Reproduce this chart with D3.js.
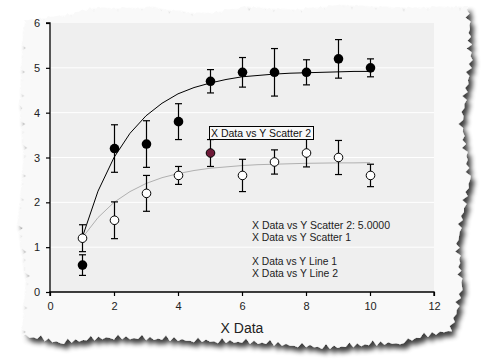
<!DOCTYPE html>
<html><head><meta charset="utf-8">
<script src="https://cdn.jsdelivr.net/npm/d3@7"></script>
<style>body{margin:0;background:#fff}svg{display:block}text{font-family:"Liberation Sans",Arial,sans-serif}</style>
</head><body><svg id="c" width="491" height="364"></svg>
<script>
const xData = [1,2,3,4,5,6,7,8,9,10];
const scatter1 = [0.6,3.2,3.3,3.8,4.7,4.9,4.9,4.9,5.2,5.0];
const scatter1Err = [0.23,0.53,0.52,0.4,0.26,0.33,0.53,0.28,0.43,0.2];
const scatter2 = [1.2,1.6,2.2,2.6,3.1,2.6,2.9,3.1,3.0,2.6];
const scatter2Err = [0.3,0.41,0.4,0.2,0.3,0.36,0.27,0.31,0.38,0.25];
const lineX = [1,1.5,2,2.5,3,3.5,4,4.5,5,5.5,6,6.5,7,7.5,8,8.5,9,9.5,10];
const line1 = [1.2,2.25,3.0,3.54,3.93,4.21,4.42,4.56,4.66,4.74,4.80,4.83,4.86,4.88,4.89,4.90,4.91,4.92,4.92];
const line2 = [1.2,1.66,2.0,2.24,2.42,2.55,2.64,2.71,2.76,2.79,2.82,2.84,2.85,2.86,2.87,2.875,2.88,2.88,2.885];
const xTicks = [0,2,4,6,8,10,12];
const yTicks = [0,1,2,3,4,5,6];
const legendLines = ["X Data vs Y Scatter 2: 5.0000","X Data vs Y Scatter 1","","X Data vs Y Line 1","X Data vs Y Line 2"];
const highlightIndex = 4;
const tooltipText = "X Data vs Y Scatter 2";

const svg = d3.select("#c");
const defs = svg.append("defs");
const f = defs.append("filter").attr("id","sh").attr("x","-10%").attr("y","-10%").attr("width","130%").attr("height","130%");
f.append("feGaussianBlur").attr("in","SourceAlpha").attr("stdDeviation",2.5);
f.append("feOffset").attr("dx",4).attr("dy",5).attr("result","b");
f.append("feComponentTransfer").append("feFuncA").attr("type","linear").attr("slope",0.75);
const fm = f.append("feMerge"); fm.append("feMergeNode"); fm.append("feMergeNode").attr("in","SourceGraphic");

// torn paper outline (decoration)
function jag(i){ return ((i*7919)%13)/13; }
const pts = [];
let k=0;
const edgeTop = [[24,20],[60,16],[90,8],[150,8],[200,14],[245,7],[290,10],[340,5],[400,8],[468,6]];
const edgeRight = [[468,6],[472,60],[462,120],[470,180],[458,240],[462,290],[452,330]];
const edgeBottom = [[452,330],[400,343],[330,348],[250,343],[170,340],[110,338],[60,343],[22,336]];
const edgeLeft = [[22,336],[26,280],[18,220],[24,160],[20,100],[24,20]];
function addEdge(seg, nx, ny){
  for(let s=0;s<seg.length-1;s++){
    const [x0,y0]=seg[s],[x1,y1]=seg[s+1];
    const len=Math.hypot(x1-x0,y1-y0), n=Math.max(2,Math.round(len/4));
    for(let j=0;j<n;j++){const t=j/n; const a=jag(k++)*5*(j%2?1:-0.3);
      pts.push([x0+(x1-x0)*t+nx*a, y0+(y1-y0)*t+ny*a]);}
  }
}
addEdge(edgeTop,0,1); addEdge(edgeRight,-1,0); addEdge(edgeBottom,0,-1); addEdge(edgeLeft,1,0);
svg.append("path").attr("d","M"+pts.map(p=>p.join(",")).join("L")+"Z")
  .attr("fill","#f9f9f9").attr("filter","url(#sh)");

const x = d3.scaleLinear().domain([0,12]).range([50,434]);
const y = d3.scaleLinear().domain([0,6]).range([292,23]);

svg.append("rect").attr("x",x(0)).attr("y",y(6)).attr("width",x(12)-x(0)).attr("height",y(0)-y(6)).attr("fill","#efefef");
svg.append("g").selectAll("line").data(yTicks.slice(1,6)).join("line")
  .attr("x1",x(0)).attr("x2",x(12)).attr("y1",d=>y(d)).attr("y2",d=>y(d)).attr("stroke","#fff");

const lg = d3.line().x((d,i)=>x(lineX[i])).y(d=>y(d));
svg.append("path").attr("d",lg(line2)).attr("fill","none").attr("stroke","#b0b0b0").attr("stroke-width",1);
svg.append("path").attr("d",lg(line1)).attr("fill","none").attr("stroke","#000").attr("stroke-width",1);

function errBars(vals, errs){
  const g = svg.append("g").attr("stroke","#000").attr("stroke-width",1.2);
  vals.forEach((v,i)=>{
    const cx=Math.round(x(xData[i]))+0.5, t=y(v+errs[i]), b=y(v-errs[i]);
    g.append("line").attr("x1",cx).attr("x2",cx).attr("y1",t).attr("y2",b);
    g.append("line").attr("x1",cx-3.5).attr("x2",cx+3.5).attr("y1",t).attr("y2",t);
    g.append("line").attr("x1",cx-3.5).attr("x2",cx+3.5).attr("y1",b).attr("y2",b);
  });
}
errBars(scatter2, scatter2Err);
errBars(scatter1, scatter1Err);

svg.append("g").selectAll("circle").data(scatter2).join("circle")
  .attr("cx",(d,i)=>Math.round(x(xData[i]))+0.5).attr("cy",d=>y(d)).attr("r",4.3)
  .attr("fill",(d,i)=>i===highlightIndex?"#6e1a38":"#fff").attr("stroke","#000").attr("stroke-width",1);
svg.append("g").selectAll("circle").data(scatter1).join("circle")
  .attr("cx",(d,i)=>Math.round(x(xData[i]))+0.5).attr("cy",d=>y(d)).attr("r",4.8).attr("fill","#000");

// axes
const xa = svg.append("g").attr("transform",`translate(0,${y(0)})`)
  .call(d3.axisBottom(x).tickValues(xTicks).tickSize(4).tickPadding(6).tickFormat(d3.format("d")));
const ya = svg.append("g").attr("transform",`translate(${x(0)},0)`)
  .call(d3.axisLeft(y).tickValues(yTicks).tickSize(4).tickPadding(6).tickFormat(d3.format("d")));
[xa,ya].forEach(a=>{a.select(".domain").attr("stroke","#000").attr("stroke-width",1.3);
  a.selectAll(".tick line").attr("stroke","#000").attr("stroke-width",1.2);
  a.selectAll("text").attr("font-size",11).attr("fill","#222").attr("font-family","Liberation Sans, Arial");});
xa.select(".domain").attr("d",`M${x(0)},4V0H${x(12)}V4`);
ya.select(".domain").attr("d",`M-4,${y(6)}H0V${y(0)}`);

svg.append("text").attr("x",242).attr("y",333).attr("text-anchor","middle").attr("font-size",14).attr("fill","#222").text("X Data");

// legend
const legW = [138,99,0,85,86];
legendLines.forEach((s,i)=>{ if(!s) return;
  svg.append("text").attr("x",252).attr("y",229+i*12).attr("font-size",11).attr("fill","#222")
   .attr("textLength",legW[i]).attr("lengthAdjust","spacingAndGlyphs").text(s);
});

// tooltip
const tx = x(xData[highlightIndex]);
svg.append("rect").attr("x",tx-0.5).attr("y",126.5).attr("width",104).attr("height",13).attr("fill","#f8f8f8").attr("stroke","#000");
svg.append("text").attr("x",tx+1).attr("y",137).attr("font-size",11).attr("fill","#111")
  .attr("textLength",100).attr("lengthAdjust","spacingAndGlyphs").text(tooltipText);
</script></body></html>
